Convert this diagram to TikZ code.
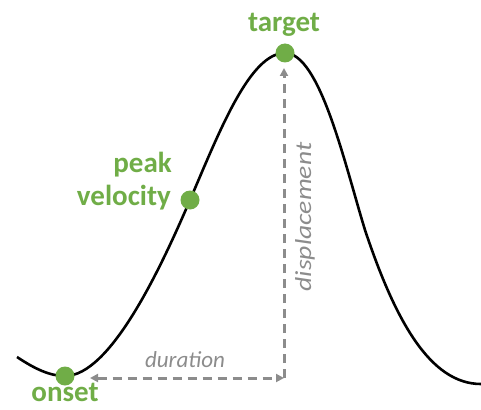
\documentclass[tikz,border=0pt]{standalone}
\usepackage{fontspec}
\setmainfont{Carlito}
\usetikzlibrary{arrows.meta}
\definecolor{ptgreen}{RGB}{112,173,71}
\definecolor{arrgray}{RGB}{140,140,140}
\begin{document}
\begin{tikzpicture}[x=1pt,y=-1pt,
  dot/.style={circle,fill=ptgreen,inner sep=0pt,minimum size=19pt},
  lbl/.style={text=ptgreen,font=\fontsize{29}{34}\selectfont\bfseries,inner sep=0pt},
  meas/.style={text=arrgray,font=\fontsize{23}{28}\selectfont\itshape,inner sep=0pt},
  measline/.style={draw=arrgray,line width=3pt,dash pattern=on 9pt off 6pt},
  tip/.style={-{Triangle[length=8pt,width=8pt]}}]
\useasboundingbox (0,0) rectangle (481,409);
\coordinate (start) at (17,357);
\coordinate (c1) at (65,376);
\coordinate (c2) at (190,200);
\coordinate (c3) at (285,53);
\coordinate (c4) at (365,230);
\coordinate (end) at (481,384);
\draw[line width=2.6pt] (start) .. controls (35,369) and (50,376) .. (c1)
  .. controls (110,376) and (160,270) .. (c2)
  .. controls (220,130) and (250,53) .. (c3)
  .. controls (320,53) and (345,165) .. (c4)
  .. controls (395,320) and (430,384) .. (end);
\coordinate (corner) at (284,378);
\coordinate (hl) at (90,378);
\coordinate (vt) at (284,68);
\draw[measline,{Triangle[length=8pt,width=8pt]}-{Triangle[length=8pt,width=8pt]}] (hl) -- (corner);
\draw[measline,tip] (corner) -- (vt);
\node[dot] (onset) at (c1) {};
\node[dot] (pv) at (c2) {};
\node[dot] (target) at (c3) {};
\node[lbl,anchor=base] (onsetlbl) at (65,401) {onset};
\node[lbl,anchor=base] (targetlbl) at (284,32) {target};
\node[lbl,anchor=base east] (peaklbl) at (172,172) {peak};
\node[lbl,anchor=base east] (vellbl) at (171,205) {velocity};
\node[meas,anchor=base] (dur) at (185,367) {duration};
\node[meas,rotate=90,anchor=base] (disp) at (311,217) {\scalebox{1.2}[1]{displacement}};
\end{tikzpicture}
\end{document}
